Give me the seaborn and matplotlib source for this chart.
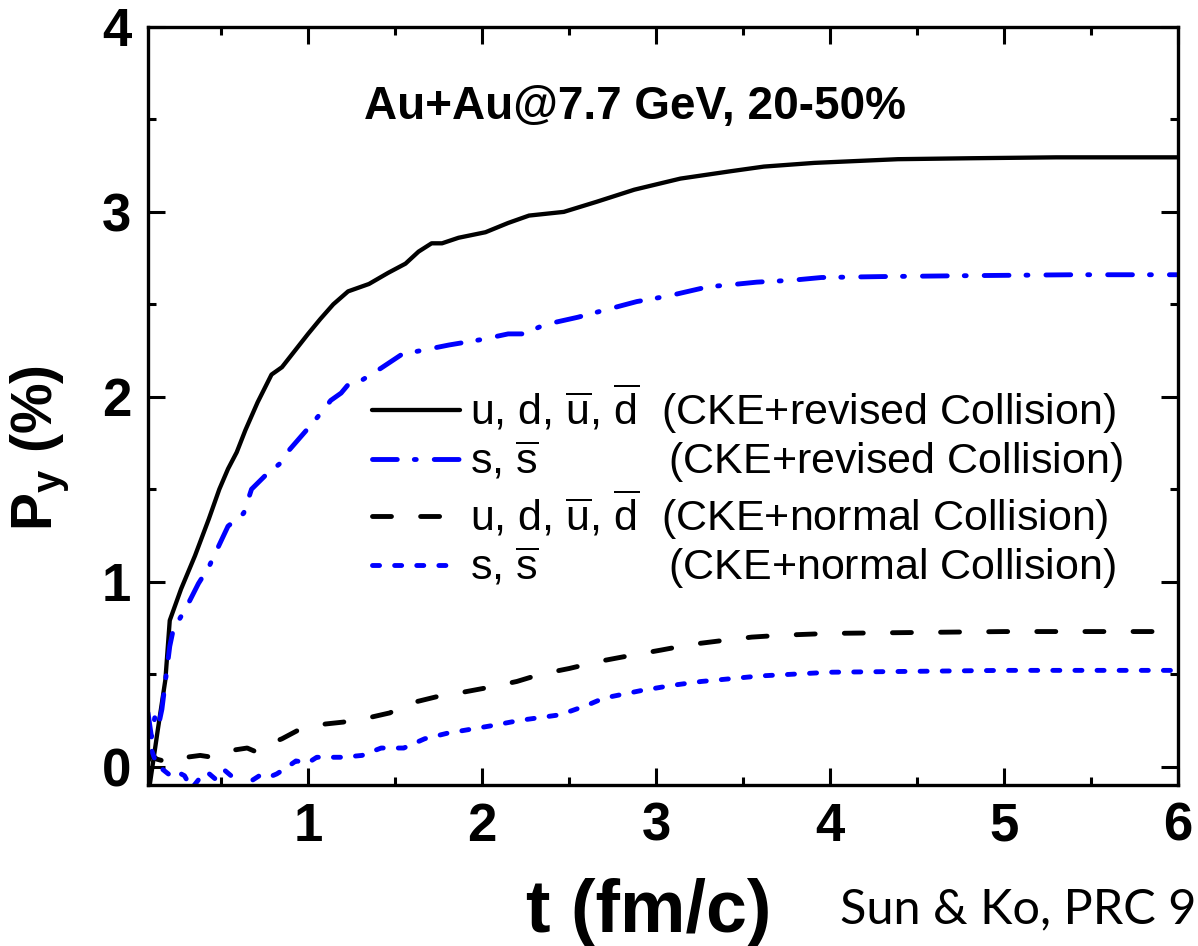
import numpy as np
import pandas as pd
import matplotlib
matplotlib.use("Agg")
import matplotlib.pyplot as plt
import seaborn as sns
from matplotlib.ticker import MultipleLocator

# ---------------- data ----------------
t_rev_ud = [0.09, 0.135, 0.18, 0.205, 0.27, 0.35, 0.43, 0.49, 0.54, 0.59, 0.64, 0.71,
            0.79, 0.85, 0.925, 1.0, 1.07, 1.145, 1.23, 1.35, 1.46, 1.56, 1.635, 1.71,
            1.77, 1.865, 2.02, 2.15, 2.27, 2.47, 2.66, 2.875, 3.14, 3.43, 3.62, 3.91,
            4.39, 4.8, 5.3, 6.0]
p_rev_ud = [-0.1, 0.19, 0.47, 0.79, 0.96, 1.14, 1.34, 1.5, 1.61, 1.70, 1.82, 1.97,
            2.12, 2.16, 2.25, 2.34, 2.42, 2.50, 2.57, 2.61, 2.67, 2.72, 2.785, 2.83,
            2.83, 2.86, 2.89, 2.94, 2.98, 3.0, 3.055, 3.12, 3.18, 3.22, 3.245, 3.265,
            3.285, 3.29, 3.295, 3.295]

t_rev_s = [0.08, 0.10, 0.12, 0.14, 0.16, 0.205, 0.225, 0.30, 0.37, 0.43, 0.54, 0.63,
           0.675, 0.75, 0.84, 0.89, 1.01, 1.09, 1.13, 1.19, 1.23, 1.31, 1.42, 1.54,
           1.65, 1.81, 2.0, 2.15, 2.24, 2.36, 2.55, 2.89, 3.07, 3.30, 3.42, 3.58,
           3.78, 3.95, 4.29, 4.8, 5.4, 6.0]
p_rev_s = [0.29, 0.16, 0.27, 0.22, 0.31, 0.65, 0.74, 0.86, 0.99, 1.08, 1.30, 1.37,
           1.50, 1.57, 1.64, 1.71, 1.84, 1.93, 1.98, 2.02, 2.065, 2.09, 2.155, 2.23,
           2.25, 2.28, 2.31, 2.34, 2.34, 2.39, 2.43, 2.515, 2.545, 2.595, 2.605, 2.62,
           2.63, 2.645, 2.65, 2.655, 2.66, 2.66]

t_nor_ud = [0.08, 0.10, 0.13, 0.17, 0.21, 0.3, 0.38, 0.45, 0.5, 0.58, 0.65, 0.70,
            0.77, 0.85, 0.95, 1.03, 1.1, 1.2, 1.33, 1.47, 1.55, 1.62, 1.75, 1.88,
            2.05, 2.2, 2.34, 2.5, 2.68, 2.85, 3.03, 3.2, 3.37, 3.55, 3.72, 4.0,
            4.5, 5.0, 5.5, 6.0]
p_nor_ud = [0.03, 0.065, 0.04, 0.03, 0.02, 0.05, 0.06, 0.05, 0.07, 0.09, 0.1, 0.08,
            0.12, 0.15, 0.2, 0.22, 0.23, 0.24, 0.26, 0.29, 0.33, 0.35, 0.38, 0.40,
            0.43, 0.46, 0.5, 0.53, 0.57, 0.6, 0.63, 0.66, 0.68, 0.70, 0.71, 0.72,
            0.725, 0.73, 0.73, 0.73]

t_nor_s = [0.08, 0.10, 0.13, 0.17, 0.21, 0.25, 0.29, 0.33, 0.38, 0.42, 0.47, 0.52,
           0.57, 0.62, 0.67, 0.72, 0.77, 0.82, 0.87, 0.93, 1.0, 1.05, 1.12, 1.2,
           1.31, 1.42, 1.55, 1.67, 1.8, 2.05, 2.22, 2.45, 2.6, 2.7, 2.91, 3.1,
           3.26, 3.6, 4.0, 4.5, 5.0, 5.5, 6.0]
p_nor_s = [0.2, 0.09, 0.01, -0.02, -0.05, -0.03, -0.05, -0.12, -0.06, -0.03, -0.07, -0.02,
           -0.06, -0.14, -0.08, -0.05, -0.06, -0.04, -0.01, 0.03, 0.02, 0.05, 0.05, 0.05,
           0.06, 0.1, 0.1, 0.15, 0.18, 0.22, 0.25, 0.28, 0.33, 0.37, 0.41, 0.44,
           0.46, 0.49, 0.51, 0.515, 0.52, 0.52, 0.52]

labels = [
    r"u, d, $\overline{\mathrm{u}}$, $\overline{\mathrm{d}}$  (CKE+revised Collision)",
    r"s, $\overline{\mathrm{s}}$           (CKE+revised Collision)",
    r"u, d, $\overline{\mathrm{u}}$, $\overline{\mathrm{d}}$  (CKE+normal Collision)",
    r"s, $\overline{\mathrm{s}}$           (CKE+normal Collision)",
]
x_ticks = [1, 2, 3, 4, 5, 6]
y_ticks = [0, 1, 2, 3, 4]
title_text = "Au+Au@7.7 GeV, 20-50%"
x_label = "t (fm/c)"
y_label = r"$\mathbf{P_y}$ (%)"
cite = "Sun & Ko, PRC 9"

# ---------------- style ----------------
sns.set_style("ticks")
plt.rcParams["font.family"] = ["Liberation Sans", "DejaVu Sans"]
plt.rcParams["mathtext.fontset"] = "custom"
plt.rcParams["mathtext.rm"] = "Liberation Sans"
plt.rcParams["mathtext.it"] = "Liberation Sans:italic"
plt.rcParams["mathtext.bf"] = "Liberation Sans:bold"
for k in ["text.color", "axes.labelcolor", "xtick.color", "ytick.color", "axes.edgecolor"]:
    plt.rcParams[k] = "black"

W, H = 1198, 946
fig = plt.figure(figsize=(W / 100, H / 100), dpi=100)
ax = fig.add_axes([148 / W, 1 - 785 / H, 1030 / W, 758 / H])

series = [
    (t_rev_ud, p_rev_ud, dict(color="black", linewidth=3.1, linestyle="-")),
    (t_rev_s, p_rev_s, dict(color="#0000FF", linewidth=3.5,
                            linestyle=(0, (5.1, 3.5, 0.4, 3.7)), dash_capstyle="round")),
    (t_nor_ud, p_nor_ud, dict(color="black", linewidth=3.5,
                              linestyle=(0, (3.9, 6.0)), dash_capstyle="round")),
    (t_nor_s, p_nor_s, dict(color="#0000FF", linewidth=3.5,
                            linestyle=(0, (1.45, 3.1)), dash_capstyle="round")),
]
for (tx, py, kw), lab in zip(series, labels):
    df = pd.DataFrame({"t": tx, "P": py})
    sns.lineplot(data=df, x="t", y="P", ax=ax, label=lab, errorbar=None, **kw)

ax.set_xlim(0.08, 6.0)
ax.set_ylim(-0.1, 4.0)
ax.set_xticks(x_ticks)
ax.set_yticks(y_ticks)
ax.xaxis.set_minor_locator(MultipleLocator(0.5))
ax.yaxis.set_minor_locator(MultipleLocator(0.5))
ax.tick_params(which="both", direction="in", top=True, right=True, width=2.2,
               color="black", labelcolor="black")
ax.tick_params(which="major", length=12)
ax.tick_params(which="minor", length=6)
ax.tick_params(axis="x", which="major", pad=12, labelsize=38)
ax.tick_params(axis="y", which="major", pad=12, labelsize=38)
for lab in ax.get_xticklabels() + ax.get_yticklabels():
    lab.set_fontweight("bold")
for sp in ax.spines.values():
    sp.set_linewidth(2.4)
    sp.set_color("black")
ax.set_xlabel("")
ax.set_ylabel("")

leg = ax.legend(loc="upper left", bbox_to_anchor=(0.2175, 0.532), frameon=False,
                fontsize=31, borderpad=0, borderaxespad=0, handlelength=2.05,
                handletextpad=0.22, labelspacing=0.05)
for txt in leg.get_texts():
    txt.set_color("black")

fig.text(635 / W, 1 - 119 / H, title_text, fontsize=33, fontweight="bold",
         ha="center", va="baseline", color="black")
fig.text(649 / W, 1 - 932 / H, x_label, fontsize=53, fontweight="bold",
         ha="center", va="baseline", color="black")
fig.text(40 / W, 1 - 448 / H, y_label, fontsize=41, fontweight="bold",
         rotation=90, ha="center", va="center", color="black")
fig.text(840 / W, 1 - 923 / H, cite, fontsize=35, family="Lato",
         ha="left", va="baseline", color="black")

fig.savefig("out.png", dpi=100)
